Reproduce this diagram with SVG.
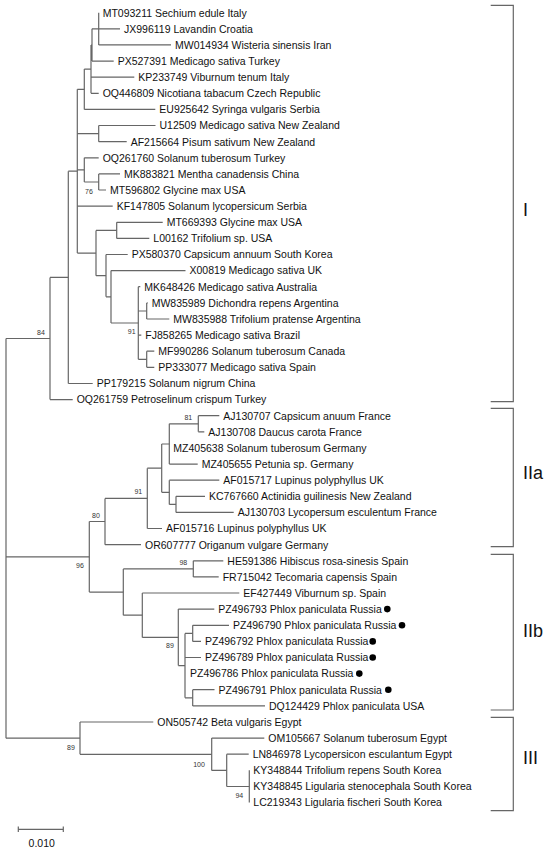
<svg xmlns="http://www.w3.org/2000/svg" width="550" height="851" viewBox="0 0 550 851">
<style>
.br{fill:none;stroke:#666;stroke-width:1.2}
.lf{font-family:"Liberation Sans",Arial,sans-serif;font-size:10.5px;fill:#111}
.bs{font-family:"Liberation Sans",Arial,sans-serif;font-size:7px;fill:#333;text-anchor:middle}
.cl{font-family:"Liberation Sans",Arial,sans-serif;font-size:18px;fill:#111}
.dot{fill:#000}
</style>
<rect width="550" height="851" fill="#fff"/>
<g id="connectors" class="br">
<path d="M98.7 12.7V44.9M92 28.8V61.1M91 45V93.3M84.3 69.1V109.4M98.7 125.5V141.7M98.7 173.9V190M84.3 157.8V182M116.7 222.3V238.4M146.7 351.2V367.3M146.7 302.9V319M138.3 286.7V359.3M111 270.6V323M106 254.5V296.8M96 230.4V275.7M77.3 89.3V253.1M68.3 171.2V383.5M50 277.4V399.6"/>
<path d="M198.3 415.7V431.8M169.3 423.8V464.1M176 496.3V512.4M169.3 480.2V504.4M161.7 444V492.3M147.3 468.2V528.5M105 498.4V544.7M193.3 560.8V576.9M192.7 625.3V641.4M192.7 689.7V705.9M185 633.4V697.8M178.3 609.1V665.6M142.3 593V637.4M123.3 568.9V615.2M89.3 521.5V592.1"/>
<path d="M249.3 770.3V802.6M226.7 754.2V786.5M211.7 738.1V770.4M80 722V754.3M6 338.5V738.2"/>
<path d="M92 28.8H120M98.7 44.9H171M92 61.1H113.7M91 77.2H134.3M91 93.3H98.7M84.3 109.4H155.3M91 45H92M84.3 69.1H91M77.3 89.3H84.3M98.7 125.5H155.5M98.7 141.7H126.7M77.3 133.6H98.7M84.3 157.8H98.7M98.7 173.9H120M98.7 190H106M84.3 182H98.7M77.3 169.9H84.3M77.3 206.1H112.7M116.7 222.3H162.7M116.7 238.4H149.3M96 230.4H116.7M106 254.5H127.7M111 270.6H185.5M138.3 286.7H140.3M146.7 302.9H147.7M146.7 319H169.3M138.3 335.1H141.3M146.7 351.2H154.3M146.7 367.3H154.3M138.3 311H146.7M138.3 359.3H146.7M111 323H138.3M106 296.8H111M96 275.7H106M77.3 253.1H96M68.3 171.2H77.3M68.3 383.5H92.7M50 277.4H68.3M50 399.6H72.7M6 338.5H50"/>
<path d="M198.3 415.7H219.3M198.3 431.8H204.3M169.3 423.8H198.3M169.3 464.1H197.7M161.7 444H169.3M169.3 480.2H219.3M176 496.3H205M176 512.4H233.7M169.3 504.4H176M161.7 492.3H169.3M147.3 468.2H161.7M147.3 528.5H162M105 498.4H147.3M105 544.7H141M89.3 521.5H105M193.3 560.8H223.3M193.3 576.9H218.7M123.3 568.9H193.3M142.3 593H239.3M178.3 609.1H214.3M192.7 625.3H229M192.7 641.4H201M185 657.5H201M192.7 689.7H214.5M192.7 705.9H265M185 633.4H192.7M185 697.8H192.7M178.3 665.6H185M142.3 637.4H178.3M123.3 615.2H142.3M89.3 592.1H123.3M6 556.8H89.3"/>
<path d="M80 722H153.3M211.7 738.1H264.3M226.7 754.2H248.7M211.7 770.4H226.7M226.7 786.5H249.3M80 754.3H211.7M6 738.2H80"/>
</g>
<g id="leaves" class="lf">
<g id="n0"><text x="102.7" y="16.5">MT093211 Sechium edule Italy</text></g>
<g id="n1"><text x="124" y="32.6">JX996119 Lavandin Croatia</text></g>
<g id="n2"><text x="175" y="48.7">MW014934 Wisteria sinensis Iran</text></g>
<g id="n3"><text x="117.7" y="64.9">PX527391 Medicago sativa Turkey</text></g>
<g id="n4"><text x="138.3" y="81">KP233749 Viburnum tenum Italy</text></g>
<g id="n5"><text x="102.7" y="97.1">OQ446809 Nicotiana tabacum Czech Republic</text></g>
<g id="n6"><text x="159.3" y="113.2">EU925642 Syringa vulgaris Serbia</text></g>
<g id="n7"><text x="159.5" y="129.3">U12509 Medicago sativa New Zealand</text></g>
<g id="n8"><text x="130.7" y="145.5">AF215664 Pisum sativum New Zealand</text></g>
<g id="n9"><text x="102.7" y="161.6">OQ261760 Solanum tuberosum Turkey</text></g>
<g id="n10"><text x="124" y="177.7">MK883821 Mentha canadensis China</text></g>
<g id="n11"><text x="110" y="193.8">MT596802 Glycine max USA</text></g>
<g id="n12"><text x="116.7" y="209.9">KF147805 Solanum lycopersicum Serbia</text></g>
<g id="n13"><text x="166.7" y="226.1">MT669393 Glycine max USA</text></g>
<g id="n14"><text x="153.3" y="242.2">L00162 Trifolium sp. USA</text></g>
<g id="n15"><text x="131.7" y="258.3">PX580370 Capsicum annuum South Korea</text></g>
<g id="n16"><text x="189.5" y="274.4">X00819 Medicago sativa UK</text></g>
<g id="n17"><text x="144.3" y="290.5">MK648426 Medicago sativa Australia</text></g>
<g id="n18"><text x="151.7" y="306.7">MW835989 Dichondra repens Argentina</text></g>
<g id="n19"><text x="173.3" y="322.8">MW835988 Trifolium pratense Argentina</text></g>
<g id="n20"><text x="145.3" y="338.9">FJ858265 Medicago sativa Brazil</text></g>
<g id="n21"><text x="158.3" y="355">MF990286 Solanum tuberosum Canada</text></g>
<g id="n22"><text x="158.3" y="371.1">PP333077 Medicago sativa Spain</text></g>
<g id="n23"><text x="96.7" y="387.3">PP179215 Solanum nigrum China</text></g>
<g id="n24"><text x="76.7" y="403.4">OQ261759 Petroselinum crispum Turkey</text></g>
<g id="n25"><text x="223.3" y="419.5">AJ130707 Capsicum anuum France</text></g>
<g id="n26"><text x="208.3" y="435.6">AJ130708 Daucus carota France</text></g>
<g id="n27"><text x="173.3" y="451.7">MZ405638 Solanum tuberosum Germany</text></g>
<g id="n28"><text x="201.7" y="467.9">MZ405655 Petunia sp. Germany</text></g>
<g id="n29"><text x="223.3" y="484">AF015717 Lupinus polyphyllus UK</text></g>
<g id="n30"><text x="209" y="500.1">KC767660 Actinidia guilinesis New Zealand</text></g>
<g id="n31"><text x="237.7" y="516.2">AJ130703 Lycopersum esculentum France</text></g>
<g id="n32"><text x="166" y="532.3">AF015716 Lupinus polyphyllus UK</text></g>
<g id="n33"><text x="145" y="548.5">OR607777 Origanum vulgare Germany</text></g>
<g id="n34"><text x="227.3" y="564.6">HE591386 Hibiscus rosa-sinesis Spain</text></g>
<g id="n35"><text x="222.7" y="580.7">FR715042 Tecomaria capensis Spain</text></g>
<g id="n36"><text x="243.3" y="596.8">EF427449 Viburnum sp. Spain</text></g>
<g id="n37"><text x="218.3" y="612.9">PZ496793 Phlox paniculata Russia</text><circle class="dot" cx="387.3" cy="609.1" r="3.3"/></g>
<g id="n38"><text x="233" y="629.1">PZ496790 Phlox paniculata Russia</text><circle class="dot" cx="402" cy="625.3" r="3.3"/></g>
<g id="n39"><text x="205" y="645.2">PZ496792 Phlox paniculata Russia</text><circle class="dot" cx="372.7" cy="641.4" r="3.3"/></g>
<g id="n40"><text x="205" y="661.3">PZ496789 Phlox paniculata Russia</text><circle class="dot" cx="372.7" cy="657.5" r="3.3"/></g>
<g id="n41"><text x="190" y="677.4">PZ496786 Phlox paniculata Russia</text><circle class="dot" cx="359.3" cy="673.6" r="3.3"/></g>
<g id="n42"><text x="218.5" y="693.5">PZ496791 Phlox paniculata Russia</text><circle class="dot" cx="388.3" cy="689.7" r="3.3"/></g>
<g id="n43"><text x="269" y="709.7">DQ124429 Phlox paniculata USA</text></g>
<g id="n44"><text x="157.3" y="725.8">ON505742 Beta vulgaris Egypt</text></g>
<g id="n45"><text x="268.3" y="741.9">OM105667 Solanum tuberosum Egypt</text></g>
<g id="n46"><text x="252.7" y="758">LN846978 Lycopersicon esculantum Egypt</text></g>
<g id="n47"><text x="253.3" y="774.1">KY348844 Trifolium repens South Korea</text></g>
<g id="n48"><text x="253.3" y="790.3">KY348845 Ligularia stenocephala South Korea</text></g>
<g id="n49"><text x="253.3" y="806.4">LC219343 Ligularia fischeri South Korea</text></g>
</g>
<g id="bootstrap" class="bs">
<text x="41" y="334.8">84</text>
<text x="89" y="193.5">76</text>
<text x="131.7" y="334.2">91</text>
<text x="188.3" y="419.8">81</text>
<text x="138.3" y="493.5">91</text>
<text x="96" y="517.5">80</text>
<text x="80" y="568.2">96</text>
<text x="183.3" y="565">98</text>
<text x="170" y="648.2">89</text>
<text x="71" y="749.8">89</text>
<text x="199" y="766.5">100</text>
<text x="239.3" y="798.2">94</text>
</g>
<g id="clades">
<path class="br" d="M490.7 5.3H513.3V401.7H490.7M490.7 408.3H513.3V546.7H490.7M490.7 554.3H513.3V710H490.7M490.7 717.3H513.3V810.7H490.7"/>
<text class="cl" x="523" y="215.7">I</text>
<text class="cl" x="523" y="479.1">IIa</text>
<text class="cl" x="523" y="637.1">IIb</text>
<text class="cl" x="523" y="763.7">III</text>
</g>
<g id="scale">
<path class="br" d="M18.3 829.3H63.3M18.3 826.5V832M63.3 826.5V832"/>
<text class="lf" x="41.7" y="846.5" text-anchor="middle">0.010</text>
</g>
</svg>
